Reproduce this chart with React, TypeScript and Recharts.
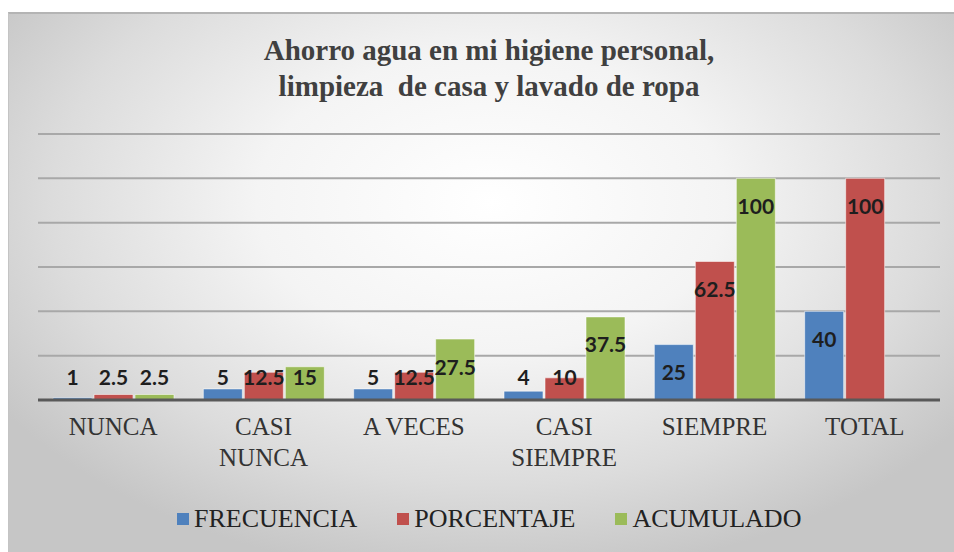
import { BarChart, Bar, XAxis, YAxis, CartesianGrid } from "recharts";

const categories = ["NUNCA", "CASI NUNCA", "A VECES", "CASI SIEMPRE", "SIEMPRE", "TOTAL"];
const tickLines = [["NUNCA"], ["CASI", "NUNCA"], ["A VECES"], ["CASI", "SIEMPRE"], ["SIEMPRE"], ["TOTAL"]];
const frecuencia = [1, 5, 5, 4, 25, 40];
const porcentaje = [2.5, 12.5, 12.5, 10, 62.5, 100];
const acumulado: (number | null)[] = [2.5, 15, 27.5, 37.5, 100, null];
const yTicks = [0, 20, 40, 60, 80, 100, 120];

const seriesNames = ["FRECUENCIA", "PORCENTAJE", "ACUMULADO"];
const seriesKeys = ["frecuencia", "porcentaje", "acumulado"];
const COLORS = ["#4F81BD", "#C0504D", "#9BBB59"];

const data = categories.map((name, i) => ({
    name,
    frecuencia: frecuencia[i],
    porcentaje: porcentaje[i],
    acumulado: acumulado[i],
}));

const SERIF = '"Liberation Serif", "Times New Roman", serif';

const ValueLabel = (props: any) => {
    const { x, y, width, height, value } = props;
    if (value === null || value === undefined) return null;
    const base = y + height;
    const cy = Math.min(y + 27, base - 24);
    return (
        <text
            x={x + width / 2}
            y={cy}
            textAnchor="middle"
            dominantBaseline="central"
            fontFamily="Lato"
            fontWeight={700}
            fontSize={21}
            fill="#1e1e1e"
        >
            {value}
        </text>
    );
};

const CategoryTick = (props: any) => {
    const { x, y, payload } = props;
    const lines = tickLines[categories.indexOf(payload.value)] || [payload.value];
    return (
        <text x={x} y={y} textAnchor="middle" style={{ fontFamily: SERIF }} fontSize={25} fill="#333">
            {lines.map((l, i) => (
                <tspan key={i} x={x} dy={i === 0 ? 27 : 31}>{l}</tspan>
            ))}
        </text>
    );
};

export default function App() {
    return (
        <div style={{ position: "fixed", left: 0, top: 0, width: 954, height: 552, overflow: "hidden", background: "#fff", fontFamily: SERIF }}>
            <div
                style={{
                    position: "absolute",
                    left: 8,
                    top: 12,
                    width: 946,
                    height: 540,
                    borderTop: "2px solid #b4b4b4",
                    borderLeft: "1px solid #c4c4c4",
                    boxSizing: "border-box",
                    background: "radial-gradient(ellipse 62% 70% at 51% 35%, #ffffff 0%, #f4f4f4 40%, #dcdcdc 75%, #c6c6c6 100%)",
                }}
            >
                <div
                    style={{
                        position: "absolute",
                        left: 0,
                        top: 18,
                        width: 946,
                        textAlign: "center",
                        fontFamily: SERIF,
                        fontWeight: "bold",
                        fontSize: 29,
                        lineHeight: "36px",
                        color: "#404040",
                        paddingLeft: 14,
                        boxSizing: "border-box",
                    }}
                >
                    Ahorro agua en mi higiene personal,
                    <br />
                    limpieza&nbsp; de casa y lavado de ropa
                </div>

                <div style={{ position: "absolute", left: -1, top: -2 }}>
                    <BarChart
                        width={946}
                        height={540}
                        data={data}
                        margin={{ top: 122, right: 14, bottom: 92, left: 30 }}
                        barSize={39}
                        barGap={2}
                    >
                        <CartesianGrid horizontal vertical={false} stroke="#a8a8a8" strokeWidth={2} />
                        <YAxis hide domain={[0, 120]} ticks={yTicks} width={0} />
                        <XAxis
                            dataKey="name"
                            height={60}
                            interval={0}
                            tickLine={false}
                            axisLine={{ stroke: "#595959", strokeWidth: 3 }}
                            tick={<CategoryTick />}
                        />
                        {seriesKeys.map((k, i) => (
                            <Bar
                                key={k}
                                dataKey={k}
                                name={seriesNames[i]}
                                fill={COLORS[i]}
                                stroke="rgba(255,255,255,0.55)"
                                strokeWidth={1}
                                isAnimationActive={false}
                                label={<ValueLabel />}
                            />
                        ))}
                    </BarChart>
                </div>

                <div
                    style={{
                        position: "absolute",
                        left: 168,
                        top: 490,
                        display: "flex",
                        alignItems: "center",
                        fontFamily: SERIF,
                        fontSize: 26,
                        color: "#222",
                        whiteSpace: "nowrap",
                    }}
                >
                    {seriesNames.map((n, i) => (
                        <div key={n} style={{ display: "flex", alignItems: "center", marginRight: 40 }}>
                            <span style={{ width: 12, height: 12, background: COLORS[i], marginRight: 5, display: "inline-block" }} />
                            <span>{n}</span>
                        </div>
                    ))}
                </div>
            </div>
        </div>
    );
}
